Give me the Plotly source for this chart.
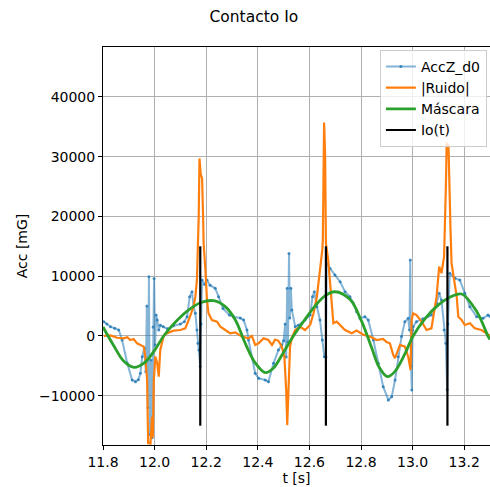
import plotly.graph_objects as go

# ---------------- data ----------------
acc_t = [11.803, 11.815, 11.829, 11.845, 11.861, 11.874, 11.894, 11.913, 11.926, 11.937,
         11.945, 11.952, 11.960, 11.966, 11.970, 11.974, 11.978, 11.982, 11.986, 11.990,
         11.994, 11.998, 12.002, 12.006, 12.010, 12.016, 12.022, 12.034, 12.050, 12.073,
         12.100, 12.115, 12.126, 12.136, 12.145, 12.151, 12.158, 12.164, 12.168, 12.172,
         12.177, 12.180, 12.184, 12.194, 12.203, 12.215, 12.235, 12.248, 12.265, 12.290,
         12.306, 12.332, 12.345, 12.358, 12.364, 12.390, 12.403, 12.429, 12.441, 12.461,
         12.480, 12.493, 12.500, 12.506, 12.510, 12.514, 12.517, 12.521, 12.524, 12.528,
         12.532, 12.545, 12.557, 12.583, 12.603, 12.612, 12.619, 12.629, 12.641, 12.650,
         12.658, 12.664, 12.667, 12.680, 12.699, 12.719, 12.738, 12.757, 12.770, 12.783,
         12.796, 12.815, 12.828, 12.848, 12.867, 12.886, 12.906, 12.919, 12.932, 12.944,
         12.957, 12.970, 12.983, 12.988, 12.991, 12.994, 12.997, 13.000, 13.002, 13.015,
         13.040, 13.060, 13.073, 13.093, 13.103, 13.112, 13.122, 13.129, 13.134, 13.137,
         13.144, 13.164, 13.183, 13.202, 13.222, 13.248, 13.273, 13.292, 13.300]
acc_v = [2400, 2000, 1550, 1300, 1000, -670, -4570, -7360, -7640, -7300,
         -6240, -3460, -2000, -6000, 5000, -12000, 9900, -16500, -4000, -17000,
         1500, 9600, -1500, 3500, 2670, 1000, 1800, 1550, 1200, 1700,
         2000, 2400, 3230, 6570, 7400, 4900, 3800, 1000, -1200, -2340,
         -5100, 2000, 9360, 8600, 9360, 8500, 7970, 6570, 4600, 3500,
         3230, 3000, 2670, 1000, -670, -6240, -7080, -7360, -7640, -4570,
         -2340, -1500, -800, 2000, -3500, 8000, -1000, 13800, 3000, 8000,
         4350, 1550, 1800, 2670, 3500, 6570, 7400, 4900, 2670, -670,
         -3460, -3500, 12150, 11300, 10200, 9080, 7400, 6570, 5500, 4060,
         2950, 3230, 2670, -670, -4570, -8470, -10700, -10150, -7360, -3460,
         -100, 2400, 2950, 1000, 12700, -5000, -9030, 1000, 1550, 2400,
         2900, 3300, 3500, 5460, 7130, 6000, 1000, -1230, -9000, 2000,
         10500, 9650, 9360, 7130, 4900, 3230, 2950, 3500, 3300]

ruido_t = [11.803, 11.829, 11.855, 11.880, 11.894, 11.906, 11.919, 11.932, 11.945, 11.958,
           11.964, 11.971, 11.975, 11.984, 11.990, 11.993, 11.997, 12.003, 12.010, 12.016,
           12.022, 12.035, 12.048, 12.074, 12.100, 12.119, 12.132, 12.151, 12.158, 12.164,
           12.171, 12.174, 12.179, 12.184, 12.188, 12.190, 12.197, 12.203, 12.209, 12.222,
           12.242, 12.255, 12.274, 12.293, 12.313, 12.338, 12.364, 12.377, 12.390, 12.403,
           12.422, 12.441, 12.455, 12.467, 12.480, 12.493, 12.503, 12.510, 12.514, 12.519,
           12.525, 12.532, 12.545, 12.564, 12.583, 12.603, 12.616, 12.629, 12.641, 12.650,
           12.652, 12.654, 12.657, 12.661, 12.664, 12.673, 12.680, 12.687, 12.693, 12.706,
           12.719, 12.738, 12.764, 12.783, 12.809, 12.835, 12.861, 12.885, 12.899, 12.912,
           12.925, 12.932, 12.951, 12.970, 12.983, 12.992, 12.996, 13.002, 13.015, 13.035,
           13.054, 13.073, 13.093, 13.103, 13.112, 13.122, 13.129, 13.132, 13.139, 13.144,
           13.147, 13.151, 13.164, 13.171, 13.177, 13.190, 13.202, 13.222, 13.241, 13.267,
           13.286, 13.300]
ruido_v = [0, 100, -300, -400, -200, -670, -500, -1230, -1500, -1780,
           -3460, -7360, -17900, -18000, -13500, -17000, -7360, -3460, -4500, -6800,
           -2340, 0, 450, 900, 1000, 1280, 2670, 4900, 6570, 9360,
           20000, 29700, 27000, 26400, 20000, 15500, 11000, 6000, 3790, 2670,
           2400, 1550, 1000, 450, 600, -100, -400, 0, -1500, -1230,
           -400, -670, -1500, -600, -800, -1780, -3460, -9030, -14900, -9030,
           -1780, -300, 1000, 1550, 1000, 1840, 3790, 6570, 10500, 14400,
           16000, 34000, 35700, 30000, 15500, 12700, 8800, 4900, 2120, 2400,
           1840, 1000, 450, 900, 200, -100, -670, -500, -1000, -1230,
           -3180, -3700, -1500, -1780, -3460, -5700, 2670, 3790, 3500, 2400,
           1000, 1280, 6570, 11600, 10500, 13250, 25000, 32100, 32000, 20000,
           17700, 12150, 8240, 6570, 3230, 2670, 1840, 2120, 1280, 1000,
           450, 0]

mask_t = [11.800, 11.840, 11.880, 11.919, 11.960, 12.000, 12.035, 12.080, 12.130, 12.180,
          12.229, 12.274, 12.313, 12.351, 12.390, 12.429, 12.460, 12.500, 12.538, 12.580,
          12.620, 12.660, 12.699, 12.757, 12.800, 12.840, 12.870, 12.902, 12.930, 12.970,
          13.002, 13.050, 13.100, 13.150, 13.190, 13.249, 13.292, 13.300]
mask_v = [1500, -1500, -4200, -5240, -4500, -2400, 0, 2300, 4300, 5600,
          5900, 4900, 2670, -1200, -4500, -6130, -5400, -2700, 0, 2600,
          4900, 6700, 7400, 6130, 2700, -1800, -5200, -6800, -6000, -3000,
          0, 3000, 5200, 6600, 7020, 4060, 0, -600]

io_times = [12.177, 12.664, 13.135]
io_low, io_high = -15000, 15000

x_ticks = [11.8, 12.0, 12.2, 12.4, 12.6, 12.8, 13.0, 13.2]
y_ticks = [-10000, 0, 10000, 20000, 30000, 40000]

# ---------------- figure ----------------
io_x, io_y = [], []
for t in io_times:
    io_x += [t, t, None]
    io_y += [io_low, io_high, None]

fig = go.Figure()
fig.add_trace(go.Scatter(x=acc_t, y=acc_v, name="AccZ_d0", mode="lines+markers",
                         line=dict(color="rgba(31,119,180,0.55)", width=2),
                         marker=dict(color="rgba(31,119,180,0.8)", size=3)))
fig.add_trace(go.Scatter(x=ruido_t, y=ruido_v, name="|Ruido|", mode="lines",
                         line=dict(color="#ff7f0e", width=2.2)))
fig.add_trace(go.Scatter(x=mask_t, y=mask_v, name="Máscara", mode="lines",
                         line=dict(color="#2ca02c", width=2.8, shape="spline")))
fig.add_trace(go.Scatter(x=io_x, y=io_y, name="Io(t)", mode="lines",
                         line=dict(color="black", width=2.2)))

font = "DejaVu Sans"
fig.update_layout(
    width=490, height=487,
    margin=dict(l=103, r=0, t=47, b=42),
    paper_bgcolor="white", plot_bgcolor="white",
    font=dict(family=font, size=14, color="black"),
    title=dict(text="Contacto Io", x=0.518, xref="container", xanchor="center",
               y=0.965, yref="container", yanchor="middle",
               font=dict(family=font, size=15.5, color="black")),
    showlegend=True,
    legend=dict(x=0.992, y=0.993, xanchor="right", yanchor="top",
                bgcolor="rgba(255,255,255,0.8)", bordercolor="#cccccc", borderwidth=1,
                font=dict(family=font, size=14, color="black"),
                tracegroupgap=0, itemwidth=30),
)
fig.update_xaxes(range=[11.8, 13.3], tickvals=x_ticks, tickformat=".1f",
                 showgrid=True, gridcolor="#b0b0b0", gridwidth=1,
                 showline=True, linecolor="black", linewidth=1, mirror=True,
                 ticks="outside", ticklen=4, tickcolor="black", zeroline=False,
                 title=dict(text="t [s]", standoff=2, font=dict(family=font, size=14)),
                 tickfont=dict(family=font, size=14))
fig.update_yaxes(range=[-18230, 48330], tickvals=y_ticks, tickformat="d",
                 showgrid=True, gridcolor="#b0b0b0", gridwidth=1,
                 showline=True, linecolor="black", linewidth=1, mirror=True,
                 ticks="outside", ticklen=4, tickcolor="black", zeroline=False,
                 title=dict(text="Acc [mG]", standoff=8, font=dict(family=font, size=14)),
                 tickfont=dict(family=font, size=14))

fig.write_html("out.html", config={"displayModeBar": False},
               post_script="document.body.style.margin='0';document.body.style.overflow='hidden';")
